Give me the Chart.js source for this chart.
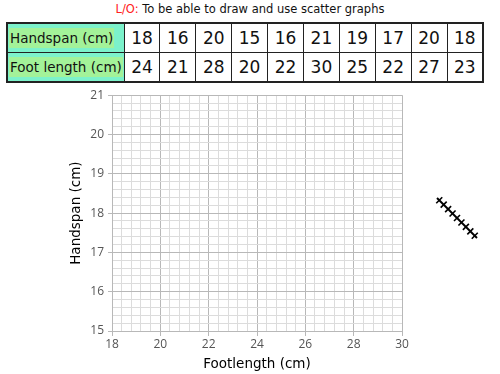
<!DOCTYPE html>
<html>
<head>
<meta charset="utf-8">
<script src="https://cdn.jsdelivr.net/npm/chart.js@4"></script>
<style>
  body { margin: 0; width: 500px; height: 374px; background: #fff; position: relative; overflow: hidden; font-family: "DejaVu Sans", sans-serif; }
  #lo { position: absolute; top: 2px; left: 0; width: 500px; text-align: center; font-size: 11.5px; color: #111; }
  #lo span { color: #ff2020; }
  #data { position: absolute; left: 6px; top: 22px; border-collapse: collapse; table-layout: fixed; width: 478px; border: 2px solid #222; }
  #data td { border: 1.5px solid #222; height: 28px; padding: 0; text-align: center; font-size: 17px; color: #111; }
  #data td.head { background: #7cf2cb; text-align: left; font-size: 13.5px; padding-left: 1px; }
  #data td.head span { background: #a3f299; padding: 2px 1px; }
  #wrap { position: absolute; left: 0; top: 84px; width: 500px; height: 290px; }
  #hatch { position: absolute; left: 430px; top: 190px; }
</style>
</head>
<body>
<div id="lo"><span>L/O:</span> To be able to draw and use scatter graphs</div>
<table id="data">
  <colgroup><col style="width:117px"></colgroup>
  <tr id="rowHand"><td class="head"><span>Handspan (cm)</span></td></tr>
  <tr id="rowFoot"><td class="head"><span>Foot length (cm)</span></td></tr>
</table>
<div id="wrap"><canvas id="c"></canvas></div>
<svg id="hatch" width="60" height="60"></svg>
<script>
// table values
const handspan = [18, 16, 20, 15, 16, 21, 19, 17, 20, 18];
const footLength = [24, 21, 28, 20, 22, 30, 25, 22, 27, 23];

// axis ranges
const xMin = 18, xMax = 30, xMinor = 0.4, xMajor = 2;
const yMin = 15, yMax = 21, yMinor = 0.2, yMajor = 1;

function fillRow(id, values) {
  const row = document.getElementById(id);
  values.forEach(v => {
    const td = document.createElement('td');
    td.textContent = v;
    row.appendChild(td);
  });
}
fillRow('rowHand', handspan);
fillRow('rowFoot', footLength);

// hatched line on the right
(function () {
  const svg = document.getElementById('hatch');
  const ns = 'http://www.w3.org/2000/svg';
  const x0 = 7, y0 = 8, x1 = 47, y1 = 48;
  const line = document.createElementNS(ns, 'line');
  line.setAttribute('x1', x0); line.setAttribute('y1', y0);
  line.setAttribute('x2', x1); line.setAttribute('y2', y1);
  line.setAttribute('stroke', '#000'); line.setAttribute('stroke-width', 2);
  svg.appendChild(line);
  const n = 9;
  for (let i = 0; i < n; i++) {
    const t = (i + 0.5) / n;
    const cx = x0 + (x1 - x0) * t, cy = y0 + (y1 - y0) * t;
    const tk = document.createElementNS(ns, 'line');
    tk.setAttribute('x1', cx - 3); tk.setAttribute('y1', cy + 3);
    tk.setAttribute('x2', cx + 3); tk.setAttribute('y2', cy - 3);
    tk.setAttribute('stroke', '#000'); tk.setAttribute('stroke-width', 1.6);
    svg.appendChild(tk);
  }
})();

const isMajor = (v, step) => Math.abs(v / step - Math.round(v / step)) < 1e-6;
const majorColor = '#b8b8b8', minorColor = '#dcdcdc';

new Chart(document.getElementById('c'), {
  type: 'scatter',
  data: {
    datasets: [{
      label: 'Handspan vs Footlength',
      data: [],
      pointRadius: 3,
      backgroundColor: '#000'
    }]
  },
  options: {
    responsive: true,
    maintainAspectRatio: false,
    animation: false,
    layout: { padding: { top: 6, right: 98, left: 68, bottom: 0 } },
    plugins: { legend: { display: false }, tooltip: { enabled: false } },
    scales: {
      x: {
        type: 'linear',
        min: xMin, max: xMax,
        afterFit: s => { s.height = 43; },
        border: { color: majorColor, width: 1 },
        grid: {
          color: c => isMajor(c.tick.value, xMajor) ? majorColor : minorColor,
          tickColor: c => isMajor(c.tick.value, xMajor) ? majorColor : 'rgba(0,0,0,0)',
          tickLength: 5
        },
        ticks: {
          stepSize: xMinor,
          autoSkip: false,
          maxRotation: 0,
          padding: 1,
          color: '#555',
          font: { family: 'Open Sans', size: 12 },
          callback: v => isMajor(v, xMajor) ? Math.round(v) : ''
        },
        title: {
          display: true,
          text: 'Footlength (cm)',
          color: '#000',
          padding: { top: 0, bottom: 1 },
          font: { family: 'DejaVu Sans', size: 13.5 }
        }
      },
      y: {
        type: 'linear',
        min: yMin, max: yMax,
        afterFit: s => { s.width = 44; },
        border: { color: majorColor, width: 1 },
        grid: {
          color: c => isMajor(c.tick.value, yMajor) ? majorColor : minorColor,
          tickColor: c => isMajor(c.tick.value, yMajor) ? majorColor : 'rgba(0,0,0,0)',
          tickLength: 4
        },
        ticks: {
          stepSize: yMinor,
          autoSkip: false,
          padding: 4,
          color: '#555',
          font: { family: 'Open Sans', size: 12 },
          callback: v => isMajor(v, yMajor) ? Math.round(v) : ''
        },
        title: {
          display: true,
          text: 'Handspan (cm)',
          color: '#000',
          padding: { top: 0, bottom: 0 },
          font: { family: 'DejaVu Sans', size: 13.5 }
        }
      }
    }
  }
});
</script>
</body>
</html>
